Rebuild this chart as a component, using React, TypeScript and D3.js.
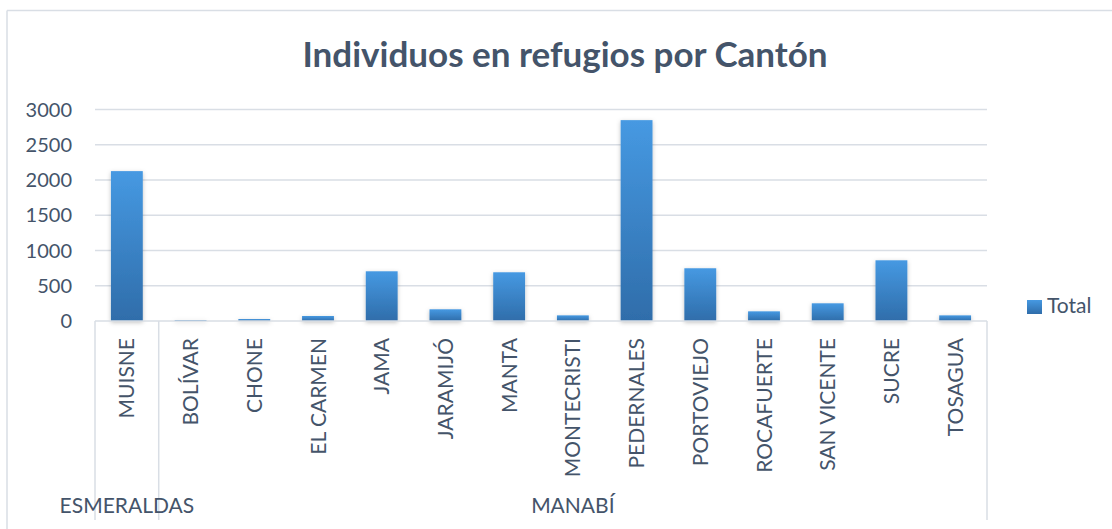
import React from 'react'
import * as d3 from 'd3'

// datos
const cantones = [
  'MUISNE', 'BOLÍVAR', 'CHONE', 'EL CARMEN', 'JAMA', 'JARAMIJÓ', 'MANTA',
  'MONTECRISTI', 'PEDERNALES', 'PORTOVIEJO', 'ROCAFUERTE', 'SAN VICENTE', 'SUCRE', 'TOSAGUA'
]
const provinciaDeCanton = [
  'ESMERALDAS', 'MANABÍ', 'MANABÍ', 'MANABÍ', 'MANABÍ', 'MANABÍ', 'MANABÍ',
  'MANABÍ', 'MANABÍ', 'MANABÍ', 'MANABÍ', 'MANABÍ', 'MANABÍ', 'MANABÍ'
]
const provincias = ['ESMERALDAS', 'MANABÍ']
const totales = [2126, 14, 28, 71, 705, 166, 691, 80, 2849, 748, 137, 251, 861, 80]
const yTicks = [0, 500, 1000, 1500, 2000, 2500, 3000]
const serie = 'Total'
const titulo = 'Individuos en refugios por Cantón'

const WIDTH = 1112
const HEIGHT = 529
const plot = { left: 95, right: 987, top: 109.5, bottom: 321 }
const catBottom = 520

const FONT = 'Lato, "Open Sans", sans-serif'
const TEXT = '#44546A'
const GRID = '#D9DEE5'

const App = () => {
  const xScale = d3
    .scaleBand<string>()
    .domain(cantones)
    .range([plot.left, plot.right])
    .paddingInner(0)
    .paddingOuter(0)
  const band = xScale.bandwidth()
  const barW = band * 0.5

  const yScale = d3
    .scaleLinear()
    .domain([0, 3000])
    .range([plot.bottom, plot.top])

  // límites de cada provincia
  const grupos = provincias.map(p => {
    const idx = cantones.map((c, i) => i).filter(i => provinciaDeCanton[i] === p)
    const x0 = xScale(cantones[idx[0]]) as number
    const x1 = (xScale(cantones[idx[idx.length - 1]]) as number) + band
    return { p, x0, x1 }
  })
  const bordes = Array.from(new Set(grupos.flatMap(g => [g.x0, g.x1])))

  return (
    <svg
      width={WIDTH}
      height={HEIGHT}
      style={{ position: 'absolute', left: 0, top: 0, display: 'block', background: '#fff' }}
    >
      <defs>
        <linearGradient id="barra" x1={0} x2={0} y1={0} y2={1}>
          <stop offset="0%" stopColor="#4699E2" />
          <stop offset="100%" stopColor="#2F6DAA" />
        </linearGradient>
        <filter id="sombra" x="-30%" y="-10%" width="160%" height="130%">
          <feDropShadow dx={0} dy={1.5} stdDeviation={2} floodColor="#000" floodOpacity={0.25} />
        </filter>
      </defs>

      {/* borde del área del gráfico */}
      <line x1={7} y1={10.5} x2={WIDTH} y2={10.5} stroke={GRID} strokeWidth={1.5} />
      <line x1={7} y1={10.5} x2={7} y2={HEIGHT} stroke={GRID} strokeWidth={1.5} />

      {/* título */}
      <text
        x={565}
        y={67}
        textAnchor="middle"
        fontFamily={FONT}
        fontWeight="bold"
        fontSize={35}
        fill={TEXT}
      >
        {titulo}
      </text>

      {/* eje y y cuadrícula */}
      <g>
        {yTicks.map(t => {
          const y = yScale(t)
          return (
            <g key={t}>
              {t > 0 && (
                <line x1={plot.left} x2={plot.right} y1={y} y2={y} stroke={GRID} strokeWidth={1.5} />
              )}
              <text
                x={72}
                y={y}
                dy="0.36em"
                textAnchor="end"
                fontFamily={FONT}
                fontSize={20}
                fill={TEXT}
              >
                {t}
              </text>
            </g>
          )
        })}
      </g>

      {/* barras */}
      <g fill="url(#barra)" filter="url(#sombra)">
        {totales.map((v, i) => {
          const x = (xScale(cantones[i]) as number) + (band - barW) / 2
          const y = yScale(v)
          return <rect key={cantones[i]} x={x} y={y} width={barW} height={plot.bottom - y} />
        })}
      </g>

      {/* eje x */}
      <line x1={plot.left} x2={plot.right} y1={plot.bottom} y2={plot.bottom} stroke={GRID} strokeWidth={1.5} />
      {bordes.map(x => (
        <line key={x} x1={x} x2={x} y1={plot.bottom} y2={catBottom} stroke={GRID} strokeWidth={1.5} />
      ))}
      {cantones.map(c => {
        const cx = (xScale(c) as number) + band / 2
        return (
          <text
            key={c}
            transform={`translate(${cx},338) rotate(-90)`}
            dy="0.36em"
            textAnchor="end"
            fontFamily={FONT}
            fontSize={21}
            fill={TEXT}
          >
            {c}
          </text>
        )
      })}
      {grupos.map(g => (
        <text
          key={g.p}
          x={(g.x0 + g.x1) / 2}
          y={513}
          textAnchor="middle"
          fontFamily={FONT}
          fontSize={21}
          fill={TEXT}
        >
          {g.p}
        </text>
      ))}

      {/* leyenda */}
      <rect x={1027} y={300} width={15} height={14} fill="url(#barra)" />
      <text x={1047} y={313} fontFamily={FONT} fontSize={21} fill={TEXT}>
        {serie}
      </text>
    </svg>
  )
}

export default App
